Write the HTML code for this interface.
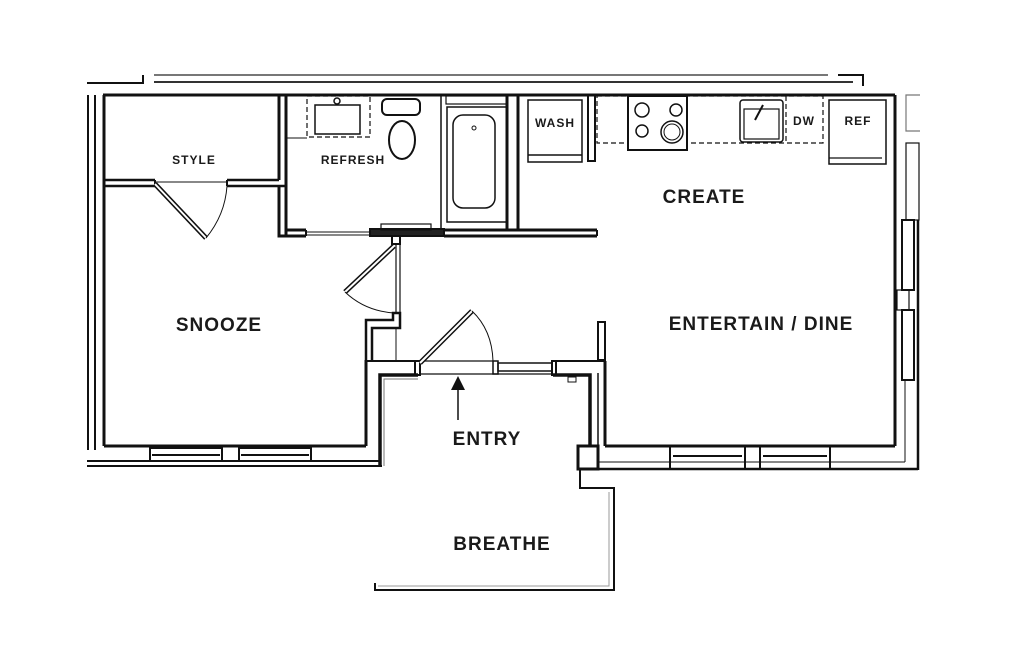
<!DOCTYPE html>
<html><head><meta charset="utf-8"><style>
html,body{margin:0;padding:0;background:#fff;}
svg{display:block}
text{font-family:"Liberation Sans",sans-serif;font-weight:bold;fill:#1a1a1a;text-anchor:middle;letter-spacing:1px}
</style></head><body>
<svg width="1024" height="645" viewBox="0 0 1024 645" xmlns="http://www.w3.org/2000/svg">
<g fill="none" stroke="#111" stroke-width="2">
<!-- roof lines -->
<line x1="154" y1="75" x2="828" y2="75" stroke="#777"/>
<line x1="154" y1="82" x2="853" y2="82" stroke="#333"/>
<polyline points="87,83 143,83 143,75"/>
<polyline points="838,75 863,75 863,86"/>
<!-- left double lines -->
<line x1="88" y1="95" x2="88" y2="450"/>
<line x1="95" y1="95" x2="95" y2="450"/>
<!-- main outline -->
<line x1="103" y1="95" x2="895" y2="95" stroke-width="3"/>
<line x1="104" y1="95" x2="104" y2="446" stroke-width="3"/>
<line x1="104" y1="446" x2="366" y2="446" stroke-width="3"/>
<line x1="366" y1="360" x2="366" y2="446" stroke-width="3"/>
<line x1="87" y1="461" x2="380" y2="461"/>
<line x1="87" y1="466" x2="382" y2="466"/>
<polyline points="380,466 380,375 418,375" stroke-width="3.5"/>
<polyline points="384,466 384,379 418,379" stroke="#777" stroke-width="1"/>
<!-- snooze bottom windows -->
<rect x="150" y="448" width="72" height="13" stroke-width="2"/>
<rect x="239" y="448" width="72" height="13" stroke-width="2"/>
<line x1="152" y1="455" x2="220" y2="455"/><line x1="241" y1="455" x2="309" y2="455"/>
<!-- style closet -->
<line x1="279" y1="95" x2="279" y2="180" stroke-width="3"/>
<line x1="104" y1="180" x2="155" y2="180" stroke-width="2.5"/>
<line x1="104" y1="186" x2="155" y2="186" stroke-width="2.5"/>
<line x1="227" y1="180" x2="279" y2="180" stroke-width="2.5"/>
<line x1="227" y1="186" x2="286" y2="186" stroke-width="2.5"/>
<line x1="155" y1="180" x2="155" y2="186"/><line x1="227" y1="180" x2="227" y2="186"/>
<line x1="155" y1="182" x2="227" y2="182" stroke-width="1"/>
<line x1="155" y1="184" x2="206" y2="238" stroke-width="5"/>
<line x1="155" y1="184" x2="206" y2="238" stroke="#fff" stroke-width="2"/>
<path d="M206 238 Q225 215 227 186" stroke-width="1"/>
<!-- refresh walls -->
<line x1="286" y1="95" x2="286" y2="236" stroke-width="3"/>
<polyline points="279,186 279,236 306,236" stroke-width="3"/>
<line x1="286" y1="230" x2="306" y2="230" stroke-width="3"/>
<line x1="306" y1="230" x2="306" y2="236"/>
<line x1="306" y1="232" x2="370" y2="232" stroke-width="1"/><line x1="306" y1="235" x2="370" y2="235" stroke-width="1"/>
<rect x="370" y="229" width="74" height="7" stroke-width="2" fill="#222"/>
<rect x="381" y="224" width="50" height="6" stroke-width="1.2"/>
<line x1="444" y1="230" x2="597" y2="230" stroke-width="3"/>
<line x1="444" y1="236" x2="597" y2="236" stroke-width="3"/>
<line x1="597" y1="230" x2="597" y2="236" stroke-width="2"/>
<!-- sink vanity -->
<rect x="307" y="96" width="63" height="41" stroke-width="1.2" stroke-dasharray="5,3"/>
<rect x="315" y="105" width="45" height="29" stroke-width="1.5"/>
<line x1="286" y1="138" x2="307" y2="138" stroke-width="1"/>
<circle cx="337" cy="101" r="3" stroke-width="1.5"/>
<!-- toilet -->
<rect x="382" y="99" width="38" height="16" rx="5" stroke-width="2"/>
<ellipse cx="402" cy="140" rx="13" ry="19" stroke-width="2"/>
<!-- tub -->
<line x1="441" y1="95" x2="441" y2="230" stroke-width="1.5"/>
<rect x="447" y="107" width="60" height="115" stroke-width="1.5"/>
<rect x="453" y="115" width="42" height="93" rx="10" stroke-width="1.5"/>
<rect x="446" y="96" width="61" height="8" stroke-width="1.2"/>
<circle cx="474" cy="128" r="2" stroke-width="1"/>
<!-- wall between tub and wash -->
<line x1="507" y1="95" x2="507" y2="230" stroke-width="3"/>
<line x1="518" y1="95" x2="518" y2="230" stroke-width="3"/>
<!-- wash -->
<rect x="528" y="100" width="54" height="62" stroke-width="1.5"/>
<line x1="528" y1="155" x2="582" y2="155" stroke-width="1.5"/>
<rect x="588" y="95" width="7" height="66" stroke-width="2"/>
<!-- counter -->
<rect x="597" y="96" width="226" height="47" stroke-width="1.2" stroke-dasharray="5,3"/>
<rect x="628" y="96" width="59" height="54" stroke-width="2" fill="#fff"/>
<circle cx="642" cy="110" r="7" stroke-width="1.5"/><circle cx="676" cy="110" r="6" stroke-width="1.5"/>
<circle cx="642" cy="131" r="6" stroke-width="1.5"/><circle cx="672" cy="132" r="11" stroke-width="1.5"/><circle cx="672" cy="132" r="8" stroke-width="1"/>
<rect x="740" y="100" width="43" height="42" rx="3" stroke-width="1.5"/>
<rect x="744" y="109" width="35" height="30" stroke-width="1.2"/>
<line x1="755" y1="120" x2="763" y2="105" stroke-width="2"/>
<line x1="786" y1="96" x2="786" y2="143" stroke-width="1.2" stroke-dasharray="5,3"/>
<!-- ref -->
<rect x="829" y="100" width="57" height="64" stroke-width="1.5"/>
<line x1="829" y1="158" x2="882" y2="158" stroke-width="1.2"/>
<!-- right wall -->
<line x1="895" y1="95" x2="895" y2="446" stroke-width="3"/>
<polyline points="920,95 906,95 906,131 920,131" stroke="#777" stroke-width="1.2"/>
<rect x="906" y="143" width="13" height="77" stroke-width="1.2"/>
<rect x="902" y="220" width="12" height="70" stroke-width="2"/>
<rect x="902" y="310" width="12" height="70" stroke-width="2"/>
<rect x="897" y="290" width="12" height="20" stroke-width="1.2"/>
<line x1="918" y1="220" x2="918" y2="470" stroke-width="2.5"/>
<!-- bottom right wall -->
<line x1="605" y1="446" x2="895" y2="446" stroke-width="3"/>
<line x1="580" y1="469" x2="918" y2="469" stroke-width="2.5"/>
<line x1="598" y1="462" x2="905" y2="462" stroke-width="1"/>
<line x1="905" y1="380" x2="905" y2="462" stroke-width="1"/>
<rect x="670" y="446" width="75" height="23" stroke-width="2"/>
<rect x="760" y="446" width="70" height="23" stroke-width="2"/>
<line x1="673" y1="456" x2="742" y2="456"/><line x1="763" y1="456" x2="827" y2="456"/>
<!-- entertain stub -->
<rect x="598" y="322" width="7" height="38" stroke-width="2"/>
<line x1="553" y1="361" x2="605" y2="361" stroke-width="2"/>
<line x1="605" y1="361" x2="605" y2="446" stroke-width="3"/>
<line x1="598" y1="373" x2="598" y2="450" stroke-width="1.5"/>
<polyline points="553,375 590,375 590,446" stroke-width="3.5"/>
<rect x="568" y="377" width="8" height="5" stroke-width="1"/>
<rect x="578" y="446" width="20" height="23" stroke-width="3"/>
<!-- entry walls -->
<line x1="366" y1="361" x2="418" y2="361" stroke-width="2"/>
<rect x="415" y="361" width="5" height="14" stroke-width="2"/>
<line x1="420" y1="361" x2="493" y2="361" stroke-width="1.2"/>
<line x1="420" y1="374" x2="553" y2="374" stroke-width="1.2"/>
<rect x="493" y="361" width="5" height="13" stroke-width="1.5"/>
<rect x="498" y="363" width="54" height="8" stroke-width="1.5"/>
<rect x="552" y="361" width="4" height="14" stroke-width="2"/>
<line x1="420" y1="363" x2="472" y2="311" stroke-width="5"/>
<line x1="420" y1="363" x2="472" y2="311" stroke="#fff" stroke-width="2"/>
<path d="M472 311 Q492 330 493 361" stroke-width="1"/>
<!-- hall door/closet -->
<rect x="392" y="236" width="8" height="8" stroke-width="2"/>
<line x1="396" y1="244" x2="396" y2="313" stroke-width="1.2"/>
<line x1="400" y1="244" x2="400" y2="313" stroke-width="1.2"/>
<line x1="394" y1="246" x2="345" y2="292" stroke-width="5"/>
<line x1="394" y1="246" x2="345" y2="292" stroke="#fff" stroke-width="2"/>
<path d="M345 292 Q365 311 394 313" stroke-width="1"/>
<polyline points="366,360 366,320 393,320 393,313 400,313 400,328 372,328 372,360" stroke-width="2.5"/>
<line x1="396" y1="328" x2="396" y2="360" stroke-width="1"/>
<!-- entry arrow -->
<line x1="458" y1="420" x2="458" y2="388" stroke-width="1.5"/>
<polygon points="451,390 465,390 458,376" fill="#111" stroke="none"/>
<!-- breathe -->
<polyline points="580,469 580,488 614,488 614,590 375,590 375,583" stroke-width="2"/>
<polyline points="609,492 609,586 378,586" stroke="#999" stroke-width="1"/>
</g>
<text x="194" y="164" font-size="12">STYLE</text>
<text x="353" y="164" font-size="12">REFRESH</text>
<text x="555" y="127" font-size="12">WASH</text>
<text x="804" y="125" font-size="12">DW</text>
<text x="858" y="125" font-size="12">REF</text>
<text x="704" y="203" font-size="19">CREATE</text>
<text x="219" y="331" font-size="19">SNOOZE</text>
<text x="761" y="330" font-size="19">ENTERTAIN / DINE</text>
<text x="487" y="445" font-size="19">ENTRY</text>
<text x="502" y="550" font-size="19">BREATHE</text>
</svg>
</body></html>
